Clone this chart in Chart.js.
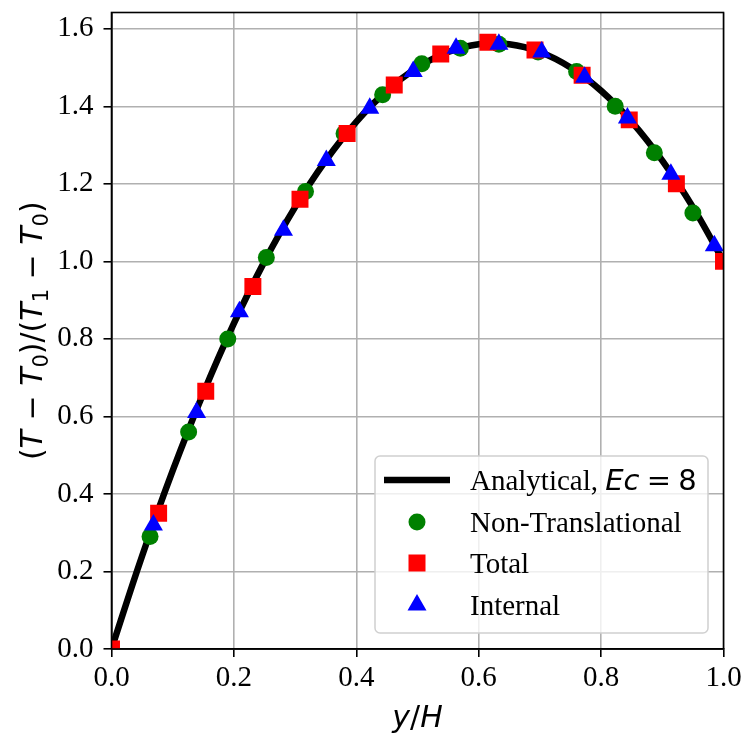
<!DOCTYPE html>
<html lang="en">
  <head>
    <meta charset="UTF-8" />
    <title>Temperature profile</title>
    <script src="https://cdn.jsdelivr.net/npm/chart.js"></script>
    <style>
      body { margin: 0; background: #fff; }
      canvas { display: block; }
    </style>
  </head>
  <body>
    <canvas id="profileChart" width="748" height="748"></canvas>

    <script>
      // analytical curve
      const lineX = [0, 0.05, 0.1, 0.15, 0.2, 0.25, 0.3, 0.35, 0.4, 0.45, 0.5, 0.55, 0.6, 0.65, 0.7, 0.75, 0.8, 0.85, 0.9, 0.95, 1.0];
      const lineY = [0, 0.24, 0.46, 0.66, 0.84, 1.0, 1.14, 1.26, 1.36, 1.44, 1.5, 1.54, 1.56, 1.56, 1.54, 1.5, 1.44, 1.36, 1.26, 1.14, 1.0];

      const nonTransX = [0.063, 0.126, 0.19, 0.253, 0.317, 0.38, 0.443, 0.507, 0.57, 0.633, 0.697, 0.76, 0.823, 0.887, 0.95];
      const nonTransY = [0.29, 0.56, 0.8, 1.01, 1.18, 1.33, 1.43, 1.51, 1.55, 1.56, 1.54, 1.49, 1.4, 1.28, 1.125];

      const totalX = [0, 0.077, 0.154, 0.231, 0.308, 0.385, 0.462, 0.538, 0.615, 0.692, 0.769, 0.846, 0.923, 1.0];
      const totalY = [0, 0.35, 0.665, 0.935, 1.16, 1.33, 1.455, 1.535, 1.565, 1.545, 1.48, 1.365, 1.2, 1.0];

      const internalX = [0.0685, 0.139, 0.209, 0.281, 0.351, 0.422, 0.493, 0.563, 0.633, 0.703, 0.773, 0.843, 0.914, 0.985];
      const internalY = [0.32, 0.61, 0.87, 1.08, 1.26, 1.395, 1.49, 1.55, 1.56, 1.54, 1.475, 1.37, 1.225, 1.04];

      const xTicks = [0, 0.2, 0.4, 0.6, 0.8, 1.0];
      const yTicks = [0, 0.2, 0.4, 0.6, 0.8, 1.0, 1.2, 1.4, 1.6];

      const SERIF = "'Liberation Serif', 'Times New Roman', serif";
      const MATH = "'DejaVu Sans', sans-serif";

      const pairs = (xs, ys) => xs.map((x, i) => ({ x: x, y: ys[i] }));

      // draw a run of text pieces with mixed fonts / subscripts
      function drawRuns(ctx, runs, x, y, size, align) {
        const fontOf = (r) => {
          const s = r.sub ? size * 0.7 : size;
          return (r.italic ? "italic " : "") + s + "px " + (r.family || MATH);
        };
        let total = 0;
        runs.forEach((r) => {
          ctx.font = fontOf(r);
          total += ctx.measureText(r.t).width;
        });
        let cx = align === "center" ? x - total / 2 : x;
        ctx.textAlign = "left";
        ctx.textBaseline = "alphabetic";
        runs.forEach((r) => {
          ctx.font = fontOf(r);
          ctx.fillText(r.t, cx, r.sub ? y + size * 0.2 : y);
          cx += ctx.measureText(r.t).width;
        });
      }

      const decorations = {
        id: "decorations",
        afterDraw(chart) {
          const ctx = chart.ctx;
          const a = chart.chartArea;
          ctx.save();

          // frame (top/right spines too)
          ctx.strokeStyle = "#000";
          ctx.lineWidth = 1.6;
          ctx.strokeRect(a.left, a.top, a.right - a.left, a.bottom - a.top);

          ctx.fillStyle = "#000";
          // x title
          drawRuns(ctx, [
            { t: "y", italic: true },
            { t: "/" },
            { t: "H", italic: true },
          ], (a.left + a.right) / 2, 727, 30, "center");

          // y title
          ctx.save();
          ctx.translate(42, (a.top + a.bottom) / 2);
          ctx.rotate(-Math.PI / 2);
          drawRuns(ctx, [
            { t: "(" },
            { t: "T", italic: true },
            { t: " \u2212 " },
            { t: "T", italic: true },
            { t: "0", sub: true },
            { t: ")/(" },
            { t: "T", italic: true },
            { t: "1", sub: true },
            { t: " \u2212 " },
            { t: "T", italic: true },
            { t: "0", sub: true },
            { t: ")" },
          ], 0, 0, 30, "center");
          ctx.restore();

          // legend box
          const bx = 375, by = 456, bw = 333, bh = 177;
          ctx.beginPath();
          ctx.roundRect(bx, by, bw, bh, 5);
          ctx.fillStyle = "rgba(255,255,255,0.8)";
          ctx.fill();
          ctx.strokeStyle = "#d0d0d0";
          ctx.lineWidth = 1.5;
          ctx.stroke();

          const rowY = [480, 522, 563, 605];
          const markX = 417;
          const textX = 470;

          ctx.strokeStyle = "#000";
          ctx.lineWidth = 6.5;
          ctx.beginPath();
          ctx.moveTo(384, rowY[0]);
          ctx.lineTo(450, rowY[0]);
          ctx.stroke();

          const ds = chart.data.datasets;
          ctx.fillStyle = ds[1].backgroundColor;
          ctx.beginPath();
          ctx.arc(markX, rowY[1], 8.5, 0, Math.PI * 2);
          ctx.fill();
          ctx.fillStyle = ds[2].backgroundColor;
          ctx.fillRect(markX - 8.5, rowY[2] - 8.5, 17, 17);
          ctx.fillStyle = ds[3].backgroundColor;
          ctx.beginPath();
          ctx.moveTo(markX, rowY[3] - 11);
          ctx.lineTo(markX + 9.5, rowY[3] + 5.5);
          ctx.lineTo(markX - 9.5, rowY[3] + 5.5);
          ctx.closePath();
          ctx.fill();

          ctx.fillStyle = "#000";
          drawRuns(ctx, [
            { t: "Analytical, ", family: SERIF },
            { t: "Ec", italic: true },
            { t: "\u2005=\u20058" },
          ], textX, rowY[0] + 10, 29, "left");
          ctx.font = "29px " + SERIF;
          ctx.fillText("Non-Translational", textX, rowY[1] + 10);
          ctx.fillText("Total", textX, rowY[2] + 10);
          ctx.fillText("Internal", textX, rowY[3] + 10);

          ctx.restore();
        },
      };

      const gridOpts = {
        color: "#b0b0b0",
        lineWidth: 1.6,
        tickColor: "#000",
        tickLength: 8,
        tickWidth: 1.6,
      };

      new Chart(document.getElementById("profileChart"), {
        type: "scatter",
        data: {
          datasets: [
            {
              label: "Analytical, Ec = 8",
              data: pairs(lineX, lineY),
              showLine: true,
              borderColor: "#000",
              borderWidth: 6.5,
              pointRadius: 0,
              tension: 0.4,
              clip: 0,
              order: 4,
            },
            {
              label: "Non-Translational",
              data: pairs(nonTransX, nonTransY),
              pointStyle: "circle",
              pointRadius: 8.5,
              backgroundColor: "#008000",
              borderColor: "#008000",
              borderWidth: 0,
              clip: 0,
              order: 3,
            },
            {
              label: "Total",
              data: pairs(totalX, totalY),
              pointStyle: "rect",
              pointRadius: 12,
              backgroundColor: "#ff0000",
              borderColor: "#ff0000",
              borderWidth: 0,
              clip: 0,
              order: 2,
            },
            {
              label: "Internal",
              data: pairs(internalX, internalY),
              pointStyle: "triangle",
              pointRadius: 11,
              backgroundColor: "#0000ff",
              borderColor: "#0000ff",
              borderWidth: 0,
              clip: 0,
              order: 1,
            },
          ],
        },
        options: {
          responsive: false,
          animation: false,
          devicePixelRatio: 1,
          layout: { padding: { top: 12.5, right: 24.5, left: 0, bottom: 0 } },
          plugins: {
            legend: { display: false },
            tooltip: { enabled: false },
          },
          scales: {
            x: {
              type: "linear",
              min: 0,
              max: 1,
              afterBuildTicks: (s) => { s.ticks = xTicks.map((v) => ({ value: v })); },
              afterFit: (s) => {
                s.height = 99;
                s.paddingLeft = 0;
                s.paddingRight = 0;
              },
              ticks: {
                color: "#000",
                font: { family: SERIF, size: 29 },
                padding: 4,
                maxRotation: 0,
                callback: (v) => v.toFixed(1),
              },
              grid: gridOpts,
              border: { color: "#000", width: 1.6 },
            },
            y: {
              type: "linear",
              min: 0,
              max: 1.642,
              afterBuildTicks: (s) => { s.ticks = yTicks.map((v) => ({ value: v })); },
              afterFit: (s) => {
                s.width = 111.5;
                s.paddingTop = 0;
                s.paddingBottom = 0;
              },
              ticks: {
                color: "#000",
                font: { family: SERIF, size: 29 },
                padding: 10,
                callback: (v) => v.toFixed(1),
              },
              grid: gridOpts,
              border: { color: "#000", width: 1.6 },
            },
          },
        },
        plugins: [decorations],
      });
    </script>
  </body>
</html>
